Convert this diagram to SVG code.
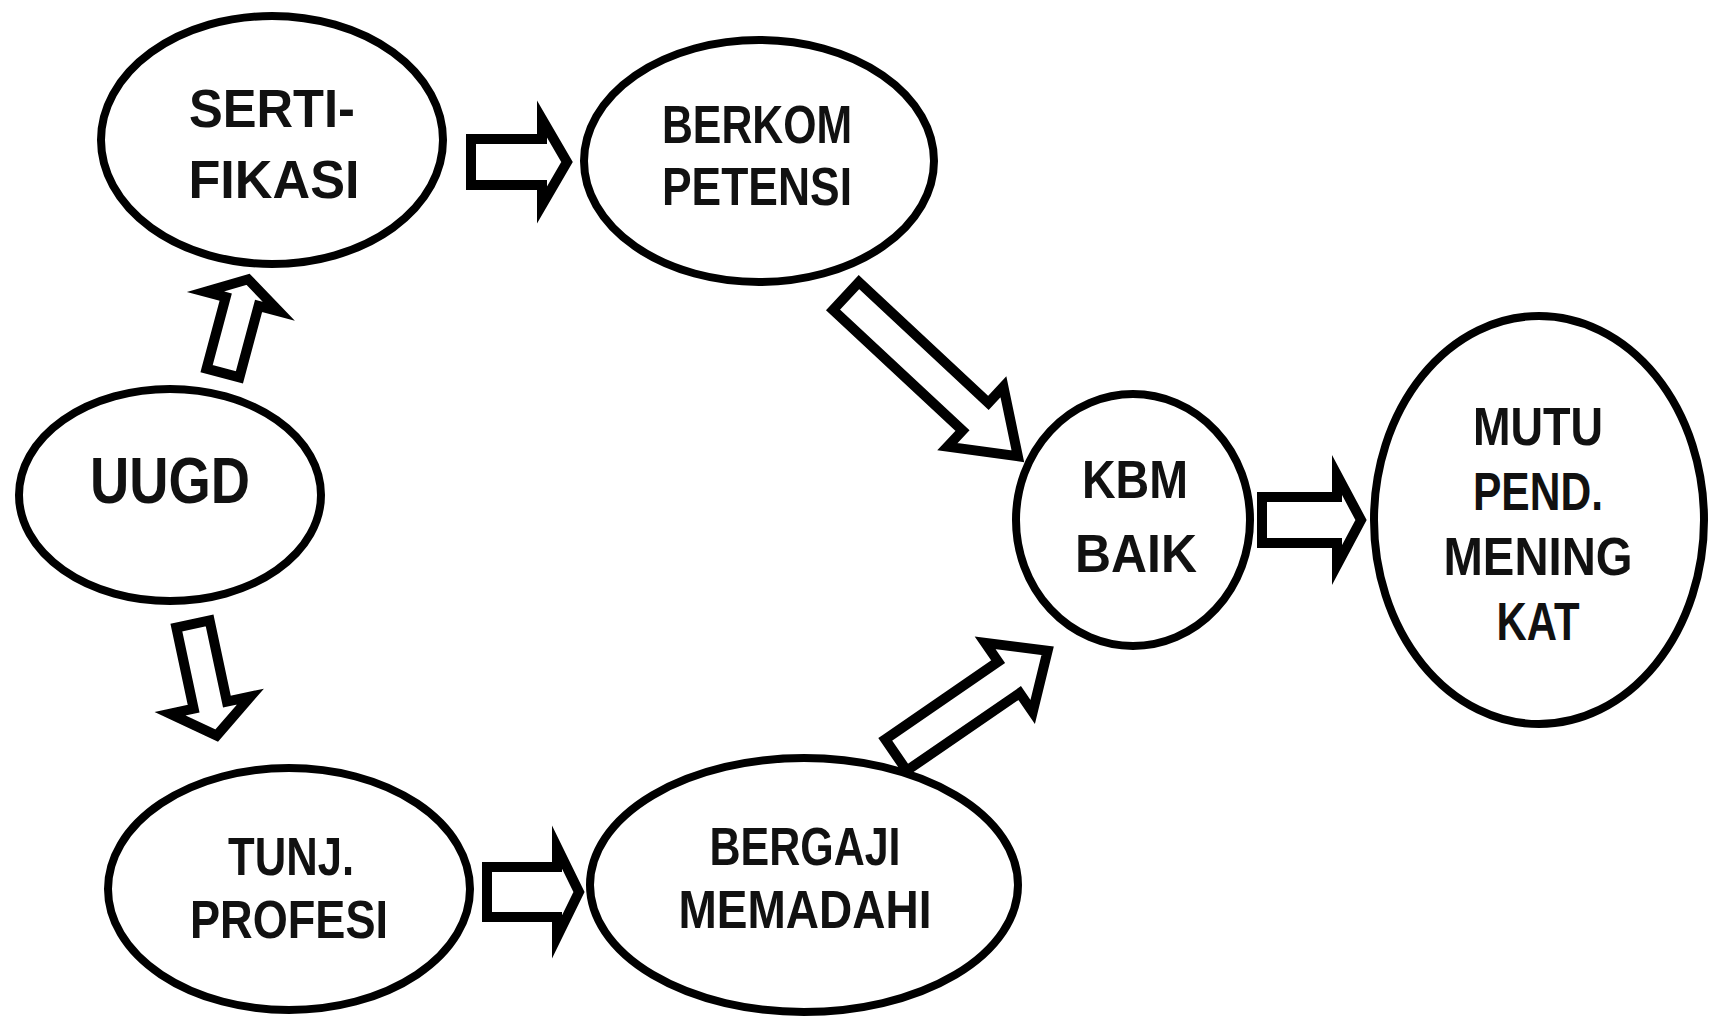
<svg xmlns="http://www.w3.org/2000/svg" width="1711" height="1022" viewBox="0 0 1711 1022">
<style>
.node{fill:#fff;stroke:#000;stroke-width:8}
.arr{fill:#fff;stroke:#000;stroke-width:10;stroke-linejoin:miter;stroke-miterlimit:12}
.lbl{font-family:"Liberation Sans",Arial,sans-serif;font-weight:bold;font-size:54px;fill:#111;text-anchor:middle}
</style>
<rect width="1711" height="1022" fill="#fff"/>
<g id="connectors">
<path class="arr" transform="translate(471,162)" d="M0,-23 L71,-23 L71,-43 L96,0 L71,43 L71,23 L0,23 Z"/>
<path class="arr" transform="translate(487,892)" d="M0,-25 L70,-25 L70,-45 L92,0 L70,45 L70,25 L0,25 Z"/>
<path class="arr" transform="translate(1262,520)" d="M0,-23 L75,-23 L75,-45 L99,0 L75,45 L75,23 L0,23 Z"/>
<path class="arr" transform="translate(223,373) rotate(-75)" d="M0,-17 L74,-17 L74,-38 L97,0 L74,38 L74,17 L0,17 Z"/>
<path class="arr" transform="translate(193,624) rotate(78)" d="M0,-17 L83,-17 L83,-41 L114,0 L83,41 L83,17 L0,17 Z"/>
<path class="arr" transform="translate(846,296) rotate(43)" d="M0,-19 L177,-19 L177,-41 L235,0 L177,41 L177,19 L0,19 Z"/>
<path class="arr" transform="translate(896,755) rotate(-34.5)" d="M0,-19 L137,-19 L137,-42 L184,0 L137,42 L137,19 L0,19 Z"/>
</g>
<g id="sertifikasi">
<ellipse class="node" cx="272" cy="140" rx="171" ry="124"/>
<text class="lbl" x="272" y="127" textLength="166" lengthAdjust="spacingAndGlyphs">SERTI-</text>
<text class="lbl" x="274" y="198" textLength="171" lengthAdjust="spacingAndGlyphs">FIKASI</text>
</g>
<g id="berkompetensi">
<ellipse class="node" cx="759" cy="161" rx="175" ry="121"/>
<text class="lbl" x="757" y="143" textLength="190" lengthAdjust="spacingAndGlyphs">BERKOM</text>
<text class="lbl" x="757" y="205" textLength="190" lengthAdjust="spacingAndGlyphs">PETENSI</text>
</g>
<g id="uugd">
<ellipse class="node" cx="170" cy="495" rx="151" ry="106"/>
<text class="lbl" x="170" y="503" style="font-size:65px" textLength="160" lengthAdjust="spacingAndGlyphs">UUGD</text>
</g>
<g id="tunjprofesi">
<ellipse class="node" cx="289" cy="889" rx="181" ry="121"/>
<text class="lbl" x="291" y="875" textLength="126" lengthAdjust="spacingAndGlyphs">TUNJ.</text>
<text class="lbl" x="289" y="938" textLength="198" lengthAdjust="spacingAndGlyphs">PROFESI</text>
</g>
<g id="bergaji">
<ellipse class="node" cx="804" cy="885" rx="214" ry="127"/>
<text class="lbl" x="805" y="865" textLength="191" lengthAdjust="spacingAndGlyphs">BERGAJI</text>
<text class="lbl" x="805" y="928" textLength="253" lengthAdjust="spacingAndGlyphs">MEMADAHI</text>
</g>
<g id="kbmbaik">
<ellipse class="node" cx="1133" cy="520" rx="117" ry="126"/>
<text class="lbl" x="1135" y="498" textLength="106" lengthAdjust="spacingAndGlyphs">KBM</text>
<text class="lbl" x="1136" y="572" textLength="122" lengthAdjust="spacingAndGlyphs">BAIK</text>
</g>
<g id="mutu">
<ellipse class="node" cx="1539" cy="520" rx="165" ry="204"/>
<text class="lbl" x="1538" y="445" textLength="130" lengthAdjust="spacingAndGlyphs">MUTU</text>
<text class="lbl" x="1538" y="510" textLength="130" lengthAdjust="spacingAndGlyphs">PEND.</text>
<text class="lbl" x="1538" y="575" textLength="189" lengthAdjust="spacingAndGlyphs">MENING</text>
<text class="lbl" x="1538" y="640" textLength="83" lengthAdjust="spacingAndGlyphs">KAT</text>
</g>
</svg>
